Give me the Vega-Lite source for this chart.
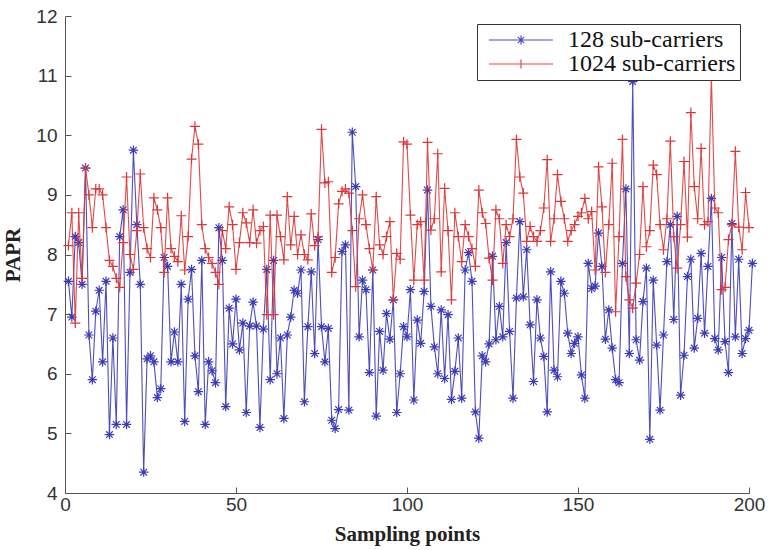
{
  "$schema": "https://vega.github.io/schema/vega-lite/v6.json",
  "width": 684,
  "height": 477,
  "autosize": {"type": "none"},
  "padding": {"left": 65, "top": 16, "right": 19, "bottom": 57},
  "background": "white",
  "config": {
    "view": {"stroke": null},
    "axis": {
      "grid": false,
      "domainColor": "#555555",
      "tickColor": "#555555",
      "tickSize": -6,
      "format": "d",
      "labelFlush": false,
      "labelFont": "Liberation Sans",
      "labelFontSize": 19,
      "labelColor": "#333333",
      "titleFont": "Liberation Serif",
      "titleFontSize": 21,
      "titleFontWeight": "bold",
      "titleColor": "#222222"
    },
    "legend": {
      "labelFont": "Liberation Serif",
      "labelFontSize": 24,
      "labelColor": "#111111",
      "labelLimit": 300,
      "strokeColor": "#333333",
      "fillColor": "white",
      "padding": 4,
      "rowPadding": -3,
      "symbolSize": 400,
      "symbolOffset": 28,
      "labelOffset": 35,
      "symbolStrokeWidth": 1.2,
      "symbolFillColor": "transparent"
    }
  },
  "datasets": {
    "blue": [7.55,6.95,8.3,8.2,7.5,9.45,6.65,5.9,7.05,7.4,6.2,7.55,4.98,6.6,5.15,8.3,8.75,5.15,7.7,9.75,8.5,7.5,4.35,6.25,6.3,6.2,5.6,5.75,7.95,7.8,6.2,6.7,6.2,7.5,5.2,7.25,7.75,6.3,5.7,7.9,5.15,6.2,6.05,5.85,8.45,7.9,5.45,7.1,6.5,7.25,6.4,6.85,5.35,6.8,7.2,6.8,5.1,6.75,7.75,5.9,7.9,6.0,6.6,5.25,6.65,6.95,7.4,7.35,7.74,5.53,6.79,7.71,6.34,8.25,6.79,6.2,6.76,5.22,5.08,5.4,8.05,8.16,5.39,10.05,9.14,6.62,7.57,7.41,6.02,7.74,5.29,6.71,6.06,7.01,6.58,7.24,5.35,6.0,6.79,6.62,7.41,5.56,6.9,6.51,7.38,9.08,7.13,6.45,6.0,7.07,5.92,6.99,5.57,6.04,6.6,5.59,7.74,8.03,7.55,5.36,4.92,6.3,6.2,6.5,7.97,6.57,7.13,6.62,8.2,6.71,5.59,7.27,8.55,7.29,8.08,6.82,5.87,7.24,6.6,6.29,5.36,7.71,6.06,5.95,7.55,7.35,6.68,6.34,6.51,6.62,5.98,5.59,7.85,7.43,7.47,8.36,7.8,6.58,7.07,6.43,5.9,5.85,7.85,9.1,6.34,10.9,6.57,6.23,7.21,7.77,4.9,7.57,6.48,5.39,6.65,7.88,8.5,6.91,8.64,5.64,6.31,7.63,7.92,6.43,6.93,8.02,6.68,7.8,8.94,6.59,6.4,7.95,6.54,6.02,8.52,6.62,7.92,6.34,6.59,6.73,7.85],
    "red": [8.15,8.7,6.85,8.7,7.6,9.45,9.0,8.45,9.1,9.1,9.0,8.45,7.9,7.8,7.6,7.45,8.2,9.3,8.0,7.75,8.4,9.35,8.45,8.1,7.95,8.95,8.75,8.45,7.7,8.95,8.1,7.97,7.88,8.65,7.74,8.3,9.6,10.15,9.85,8.5,8.1,7.95,7.85,7.7,7.5,8.4,8.1,8.8,8.5,7.75,8.2,8.7,8.53,8.2,8.75,8.19,8.4,8.47,6.99,8.66,6.99,8.66,8.3,7.91,8.97,8.16,8.64,8.0,8.33,8.0,7.91,8.68,8.15,8.3,10.1,9.2,9.22,7.7,7.95,8.85,9.06,9.1,9.03,8.4,7.46,8.6,9.0,8.5,8.1,7.74,8.97,8.16,8.0,8.3,8.55,7.24,8.02,7.92,9.89,9.85,8.66,7.57,8.5,8.55,7.57,9.88,8.41,8.6,9.69,7.71,9.11,8.4,7.24,8.7,8.3,7.88,8.5,8.3,8.1,7.8,9.08,8.7,8.52,7.94,7.57,8.75,8.6,7.85,8.5,8.3,8.6,9.93,9.3,9.03,8.22,8.47,8.3,8.22,8.4,8.78,9.59,8.22,8.6,9.34,8.89,8.6,8.22,8.4,8.5,8.64,8.7,8.94,8.6,8.72,7.74,9.47,8.8,7.7,8.5,9.53,7.04,8.3,9.93,7.63,7.24,7.1,7.52,8.0,9.14,8.13,8.4,9.5,9.34,8.5,8.08,8.6,9.9,8.3,7.77,8.5,9.56,8.29,10.38,9.14,8.6,9.78,8.5,8.55,11.0,8.78,8.7,7.41,7.45,8.25,8.5,9.73,8.46,8.08,9.04,8.45]
  },
  "layer": [
    {
      "data": {"name": "blue"},
      "transform": [
        {"window": [{"op": "row_number", "as": "x"}]},
        {"calculate": "'128 sub-carriers'", "as": "series"},
        {"calculate": "datum.data", "as": "v"}
      ],
      "layer": [
        {
          "mark": {"type": "line", "strokeWidth": 1.1, "opacity": 0.9},
          "encoding": {
            "x": {"field": "x", "type": "quantitative", "scale": {"domain": [0, 200], "nice": false}, "axis": {"values": [0, 50, 100, 150, 200], "title": "Sampling points", "titlePadding": 9, "labelPadding": 8}},
            "y": {"field": "v", "type": "quantitative", "scale": {"domain": [4, 12], "nice": false, "zero": false}, "axis": {"values": [4, 5, 6, 7, 8, 9, 10, 11, 12], "title": "PAPR", "titlePadding": 12, "labelPadding": 14}},
            "color": {
              "field": "series", "type": "nominal",
              "scale": {"domain": ["128 sub-carriers", "1024 sub-carriers"], "range": ["#3b3bb8", "#e03535"]},
              "legend": {"title": null, "orient": "none", "legendX": 412, "legendY": 8, "direction": "vertical",
                "encode": {"symbols": {"stroke": {"value": {"signal": "datum.value === '128 sub-carriers' ? '#3b3bb8' : '#e03535'"}}}}}
            }
          }
        },
        {
          "mark": {"type": "point", "filled": false, "size": 90, "strokeWidth": 1.2, "opacity": 1, "shape": "M-1,0H1M0,-1V1M-0.7,-0.7L0.7,0.7M-0.7,0.7L0.7,-0.7"},
          "encoding": {
            "x": {"field": "x", "type": "quantitative"},
            "y": {"field": "v", "type": "quantitative"},
            "color": {"field": "series", "type": "nominal"}
          }
        }
      ]
    },
    {
      "data": {"name": "red"},
      "transform": [
        {"window": [{"op": "row_number", "as": "x"}]},
        {"calculate": "'1024 sub-carriers'", "as": "series"},
        {"calculate": "datum.data", "as": "v"}
      ],
      "layer": [
        {
          "mark": {"type": "line", "strokeWidth": 1.1, "opacity": 0.9},
          "encoding": {
            "x": {"field": "x", "type": "quantitative"},
            "y": {"field": "v", "type": "quantitative"},
            "color": {"field": "series", "type": "nominal"}
          }
        },
        {
          "mark": {"type": "point", "filled": false, "size": 100, "strokeWidth": 1.2, "opacity": 1, "shape": "M-1,0H1M0,-1V1"},
          "encoding": {
            "x": {"field": "x", "type": "quantitative"},
            "y": {"field": "v", "type": "quantitative"},
            "color": {"field": "series", "type": "nominal"}
          }
        },
        {
          "transform": [{"filter": "datum.x > 1000"}],
          "mark": {"type": "point", "filled": false, "size": 400, "strokeWidth": 1.2, "opacity": 1},
          "encoding": {
            "x": {"field": "x", "type": "quantitative"},
            "y": {"field": "v", "type": "quantitative"},
            "color": {"field": "series", "type": "nominal"},
            "shape": {
              "field": "series", "type": "nominal",
              "scale": {"domain": ["128 sub-carriers", "1024 sub-carriers"], "range": ["M-3.2,0H3.2M0,-0.45V0.45M-0.32,-0.32L0.32,0.32M-0.32,0.32L0.32,-0.32", "M-3.2,0H3.2M0,-0.45V0.45"]},
              "legend": {"title": null, "orient": "none", "legendX": 412, "legendY": 8, "direction": "vertical",
                "encode": {"symbols": {"stroke": {"value": {"signal": "datum.value === '128 sub-carriers' ? '#3b3bb8' : '#e03535'"}}}}}
            }
          }
        }
      ]
    }
  ]
}
